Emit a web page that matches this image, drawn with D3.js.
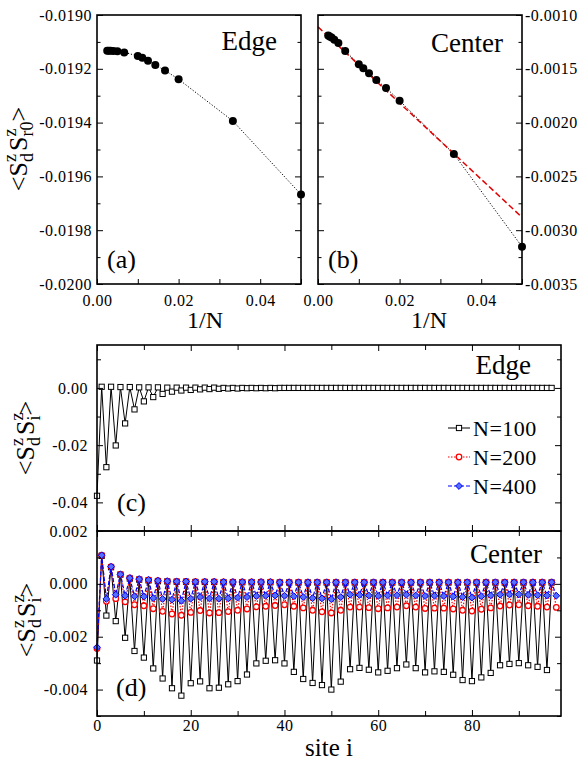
<!DOCTYPE html>
<html>
<head>
<meta charset="utf-8">
<script src="https://cdn.jsdelivr.net/npm/d3@7"></script>
<style>
  body { margin: 0; background: #fff; }
  text { font-family: "Liberation Serif", "Times New Roman", serif; }
</style>
</head>
<body>
<div id="chart"></div>
<script>
// finite-size data, panels (a) and (b)
const invN = [0.0025, 0.00286, 0.00333, 0.004, 0.005, 0.00667, 0.0100, 0.0111, 0.0125, 0.01429, 0.01667, 0.0200, 0.0333, 0.0500];
const edgeVals = [-0.019133, -0.019133, -0.019133, -0.019134, -0.019135, -0.019139, -0.019152, -0.019159, -0.019170, -0.019186, -0.019206, -0.019239, -0.019394, -0.019667];
const centerVals = [-0.00119, -0.00120, -0.00121, -0.00123, -0.00126, -0.001335, -0.001458, -0.001496, -0.001542, -0.001604, -0.001678, -0.001796, -0.002292, -0.003153];
const fitX = [0, 0.05];
const fitY = [-0.00111, -0.00288];

// site correlations, panel (c): edge, N=100
const edgeN100 = [
  -0.0377, 0.0004, -0.0277, 0.0004, -0.0201, 0.0003, -0.0124, 0.0003, -0.0075, 0.0002,
  -0.0047, 0.0002, -0.0032, 0.0002, -0.0021, 0.0001, -0.0013, 0.0001, -0.0009, 0.0001,
  -0.0007, 0.0001, -0.0005, 0.0001, -0.0004, 0.0001, -0.0003, 0.0000, -0.0002, 0.0000,
  -0.0002, 0.0000, -0.0001, 0.0000, -0.0001, 0.0000, -0.0001, 0.0000, -0.0001, 0.0000,
  0, 0, 0, 0, 0, 0, 0, 0, 0, 0,
  0, 0, 0, 0, 0, 0, 0, 0, 0, 0,
  0, 0, 0, 0, 0, 0, 0, 0, 0, 0,
  0, 0, 0, 0, 0, 0, 0, 0, 0, 0,
  0, 0, 0, 0, 0, 0, 0, 0, 0, 0,
  0, 0, 0, 0, 0, 0, 0, 0
];

// panel (d): center
const centerN100 = [
  -0.00290, 0.00106, -0.00120, 0.00063, -0.00141, 0.00035, -0.00204, 0.00020, -0.00254, 0.00016,
  -0.00279, 0.00013, -0.00320, 0.00010, -0.00358, 0.00009, -0.00395, 0.00008, -0.00423, 0.00008,
  -0.00376, 0.00007, -0.00369, 0.00007, -0.00395, 0.00007, -0.00393, 0.00006, -0.00380, 0.00006,
  -0.00368, 0.00006, -0.00343, 0.00006, -0.00301, 0.00006, -0.00291, 0.00006, -0.00289, 0.00005,
  -0.00301, 0.00005, -0.00333, 0.00005, -0.00360, 0.00005, -0.00375, 0.00005, -0.00383, 0.00005,
  -0.00400, 0.00005, -0.00370, 0.00005, -0.00323, 0.00005, -0.00318, 0.00005, -0.00325, 0.00005,
  -0.00335, 0.00005, -0.00329, 0.00005, -0.00319, 0.00005, -0.00305, 0.00005, -0.00319, 0.00005,
  -0.00335, 0.00005, -0.00331, 0.00005, -0.00333, 0.00005, -0.00344, 0.00005, -0.00364, 0.00005,
  -0.00368, 0.00005, -0.00354, 0.00005, -0.00337, 0.00005, -0.00308, 0.00005, -0.00303, 0.00005,
  -0.00300, 0.00005, -0.00308, 0.00005, -0.00314, 0.00005, -0.00326, 0.00005
];
const centerN200 = [
  -0.00245, 0.00108, -0.00066, 0.00065, -0.00056, 0.00036, -0.00068, 0.00022, -0.00079, 0.00018,
  -0.00083, 0.00015, -0.00094, 0.00012, -0.00104, 0.00010, -0.00114, 0.00009, -0.00119, 0.00009,
  -0.00108, 0.00008, -0.00101, 0.00008, -0.00110, 0.00008, -0.00109, 0.00007, -0.00105, 0.00007,
  -0.00100, 0.00007, -0.00095, 0.00007, -0.00087, 0.00007, -0.00085, 0.00007, -0.00082, 0.00006,
  -0.00079, 0.00006, -0.00085, 0.00006, -0.00091, 0.00006, -0.00100, 0.00006, -0.00106, 0.00006,
  -0.00110, 0.00006, -0.00100, 0.00006, -0.00088, 0.00006, -0.00088, 0.00006, -0.00090, 0.00006,
  -0.00094, 0.00006, -0.00091, 0.00006, -0.00088, 0.00006, -0.00083, 0.00006, -0.00088, 0.00006,
  -0.00093, 0.00006, -0.00092, 0.00006, -0.00092, 0.00006, -0.00095, 0.00006, -0.00100, 0.00006,
  -0.00103, 0.00006, -0.00096, 0.00006, -0.00091, 0.00006, -0.00084, 0.00006, -0.00080, 0.00006,
  -0.00079, 0.00006, -0.00083, 0.00006, -0.00085, 0.00006, -0.00088, 0.00006, -0.00089
];
const centerN400 = [
  -0.00240, 0.00108, -0.00057, 0.00065, -0.00041, 0.00036, -0.00045, 0.00022, -0.00047, 0.00018,
  -0.00048, 0.00015, -0.00054, 0.00012, -0.00057, 0.00010, -0.00060, 0.00009, -0.00064, 0.00009,
  -0.00056, 0.00008, -0.00050, 0.00008, -0.00055, 0.00008, -0.00056, 0.00007, -0.00055, 0.00007,
  -0.00052, 0.00007, -0.00050, 0.00007, -0.00046, 0.00007, -0.00045, 0.00007, -0.00044, 0.00006,
  -0.00045, 0.00006, -0.00047, 0.00006, -0.00050, 0.00006, -0.00054, 0.00006, -0.00055, 0.00006,
  -0.00058, 0.00006, -0.00050, 0.00006, -0.00041, 0.00006, -0.00042, 0.00006, -0.00044, 0.00006,
  -0.00046, 0.00006, -0.00044, 0.00006, -0.00043, 0.00006, -0.00041, 0.00006, -0.00044, 0.00006,
  -0.00046, 0.00006, -0.00045, 0.00006, -0.00046, 0.00006, -0.00048, 0.00006, -0.00050, 0.00006,
  -0.00052, 0.00006, -0.00047, 0.00006, -0.00044, 0.00006, -0.00041, 0.00006, -0.00040, 0.00006,
  -0.00040, 0.00006, -0.00042, 0.00006, -0.00043, 0.00006, -0.00044, 0.00006, -0.00045
];

const legendNames = ["N=100", "N=200", "N=400"];

// tick values
const invNTicks = [0.00, 0.02, 0.04];
const invNMinor = [0.01, 0.03, 0.05];
const aTicks = [-0.0200, -0.0198, -0.0196, -0.0194, -0.0192, -0.0190];
const aMinor = [-0.0199, -0.0197, -0.0195, -0.0193, -0.0191];
const bTicks = [-0.0035, -0.0030, -0.0025, -0.0020, -0.0015, -0.0010];
const bMinor = [-0.00325, -0.00275, -0.00225, -0.00175, -0.00125];
const cTicks = [-0.04, -0.02, 0.00];
const cMinor = [-0.03, -0.01, 0.01];
const dTicks = [-0.004, -0.002, 0.000, 0.002];
const dMinor = [-0.005, -0.003, -0.001, 0.001];
const siteTicks = [0, 20, 40, 60, 80];
const siteMinor = [10, 30, 50, 70, 90];

const SERIF = '"Liberation Serif", "Times New Roman", serif';
const W = 579, H = 764;
const svg = d3.select("#chart").append("svg").attr("width", W).attr("height", H);

const fmt = n => v => v.toFixed(n);

// inward ticks on one side; labelled when f is given
function ticks(axisFn, scale, pos, vals, size, f, pad) {
    const ax = axisFn(scale).tickValues(vals).tickSizeInner(-size).tickSizeOuter(0)
        .tickPadding(pad || 4).tickFormat(f || "");
    const g = svg.append("g").attr("transform", pos).call(ax);
    g.select(".domain").remove();
    g.selectAll("line").attr("stroke", "#000").attr("stroke-width", 1);
    g.attr("font-family", null).attr("font-size", null);
    g.selectAll("text").attr("fill", "#000")
        .style("font-family", SERIF).style("font-size", "16px").style("letter-spacing", "0.5px");
    return g;
}

function frame(x, y) {
    svg.append("rect")
        .attr("x", x.range()[0]).attr("y", y.range()[1])
        .attr("width", x.range()[1] - x.range()[0])
        .attr("height", y.range()[0] - y.range()[1])
        .attr("fill", "none").attr("stroke", "#000").attr("stroke-width", 1.6);
}

function label(txt, x, y, size, anchor) {
    svg.append("text").attr("x", x).attr("y", y).style("font-size", size + "px")
        .style("font-family", SERIF).attr("text-anchor", anchor || "start").text(txt);
}

function yLabel(x0, yc, sub) {
    const t = svg.append("text").attr("transform", `translate(${x0},${yc}) rotate(-90)`)
        .attr("text-anchor", "middle").style("font-family", SERIF).style("font-size", "26px");
    t.append("tspan").text("<S");
    t.append("tspan").style("font-size", "18px").attr("dy", -11).text("z");
    t.append("tspan").style("font-size", "18px").attr("dx", -8).attr("dy", 17).text("d");
    t.append("tspan").attr("dx", 2).attr("dy", -6).text("S");
    t.append("tspan").style("font-size", "18px").attr("dy", -11).text("z");
    t.append("tspan").style("font-size", "18px").attr("dx", -8).attr("dy", 17).text(sub);
    t.append("tspan").attr("dy", -6).text(">");
}

// ---------- panel (a) ----------
const xa = d3.scaleLinear().domain([0, 0.05]).range([97, 301]);
const ya = d3.scaleLinear().domain([-0.0200, -0.0190]).range([284, 15]);
const xb = d3.scaleLinear().domain([0, 0.05]).range([318, 522]);
const yb = d3.scaleLinear().domain([-0.0035, -0.0010]).range([284, 15]);

function fitPanel(x, y, vals) {
    const pts = invN.map((v, i) => [v, vals[i]]);
    svg.append("path").datum(pts)
        .attr("d", d3.line().x(d => x(d[0])).y(d => y(d[1])))
        .attr("fill", "none").attr("stroke", "#000").attr("stroke-width", 1)
        .attr("stroke-dasharray", "1.2,1.8");
    return pts;
}
function dots(x, y, pts) {
    svg.append("g").selectAll("circle").data(pts).join("circle")
        .attr("cx", d => x(d[0])).attr("cy", d => y(d[1])).attr("r", 4).attr("fill", "#000");
}

const ptsA = fitPanel(xa, ya, edgeVals);
dots(xa, ya, ptsA);
frame(xa, ya);
ticks(d3.axisLeft, ya, "translate(97,0)", aTicks, 6, fmt(4), 5);
ticks(d3.axisLeft, ya, "translate(97,0)", aMinor, 3.5);
ticks(d3.axisRight, ya, "translate(301,0)", aTicks, 6);
ticks(d3.axisRight, ya, "translate(301,0)", aMinor, 3.5);
ticks(d3.axisBottom, xa, "translate(0,284)", invNTicks, 5, fmt(2), 11);
ticks(d3.axisBottom, xa, "translate(0,284)", invNMinor, 5);
label("Edge", 277, 50, 27, "end");
label("(a)", 107, 268, 26);
label("1/N", 205, 328, 24, "middle");
yLabel(27, 149, "r0");

// ---------- panel (b) ----------
const ptsB = fitPanel(xb, yb, centerVals);
svg.append("path").datum(fitX.map((v, i) => [v, fitY[i]]))
    .attr("d", d3.line().x(d => xb(d[0])).y(d => yb(d[1])))
    .attr("fill", "none").attr("stroke", "#e00000").attr("stroke-width", 1.5)
    .attr("stroke-dasharray", "6,3");
dots(xb, yb, ptsB);
frame(xb, yb);
ticks(d3.axisRight, yb, "translate(522,0)", bTicks, 6, fmt(4), 3);
ticks(d3.axisRight, yb, "translate(522,0)", bMinor, 3.5);
ticks(d3.axisLeft, yb, "translate(318,0)", bTicks, 6);
ticks(d3.axisLeft, yb, "translate(318,0)", bMinor, 3.5);
ticks(d3.axisBottom, xb, "translate(0,284)", invNTicks, 5, fmt(2), 11);
ticks(d3.axisBottom, xb, "translate(0,284)", invNMinor, 5);
label("Center", 503, 52, 27, "end");
label("(b)", 328, 268, 26);
label("1/N", 429, 328, 24, "middle");

// ---------- panels (c) and (d) ----------
const xs = d3.scaleLinear().domain([0, 99]).range([97, 561]);
const yc = d3.scaleLinear().domain([-0.05, 0.015]).range([531, 345]);
const yd = d3.scaleLinear().domain([-0.005, 0.002]).range([716, 531]);

const styles = [
    { color: "#000", dash: null, width: 1, marker: "square" },
    { color: "#ff0000", dash: "1.5,1.5", width: 1.2, marker: "circle" },
    { color: "#0000ff", dash: "4,2", width: 1.2, marker: "diamond" }
];

function marker(g, st, cx, cy) {
    if (st.marker === "square") {
        g.append("rect").attr("x", cx - 2.6).attr("y", cy - 2.6).attr("width", 5.2).attr("height", 5.2)
            .attr("fill", "#fff").attr("stroke", st.color).attr("stroke-width", 1);
    } else if (st.marker === "circle") {
        g.append("circle").attr("cx", cx).attr("cy", cy).attr("r", 2.8)
            .attr("fill", "#fff").attr("stroke", st.color).attr("stroke-width", 1.3);
    } else {
        g.append("path").attr("d", `M${cx},${cy - 3.4}L${cx + 3.4},${cy}L${cx},${cy + 3.4}L${cx - 3.4},${cy}Z`)
            .attr("fill", "#5570ff").attr("stroke", st.color).attr("stroke-width", 1);
    }
}

function series(y, vals, st) {
    svg.append("path").datum(vals)
        .attr("d", d3.line().x((d, i) => xs(i)).y(d => y(d)))
        .attr("fill", "none").attr("stroke", st.color).attr("stroke-width", st.width)
        .attr("stroke-dasharray", st.dash);
    const g = svg.append("g");
    vals.forEach((v, i) => marker(g, st, xs(i), y(v)));
}

series(yc, edgeN100, styles[0]);
series(yd, centerN100, styles[0]);
series(yd, centerN200, styles[1]);
series(yd, centerN400, styles[2]);

frame(xs, yc);
frame(xs, yd);
ticks(d3.axisLeft, yc, "translate(97,0)", cTicks, 6, fmt(2), 9);
ticks(d3.axisLeft, yc, "translate(97,0)", cMinor, 4);
ticks(d3.axisRight, yc, "translate(561,0)", cTicks, 6);
ticks(d3.axisRight, yc, "translate(561,0)", cMinor, 4);
ticks(d3.axisTop, xs, "translate(0,345)", siteTicks, 6);
ticks(d3.axisTop, xs, "translate(0,345)", siteMinor, 5);
ticks(d3.axisBottom, xs, "translate(0,531)", siteTicks, 6);
ticks(d3.axisBottom, xs, "translate(0,531)", siteMinor, 5);

ticks(d3.axisLeft, yd, "translate(97,0)", dTicks, 6, fmt(3), 9);
ticks(d3.axisLeft, yd, "translate(97,0)", dMinor, 4);
ticks(d3.axisRight, yd, "translate(561,0)", dTicks, 6);
ticks(d3.axisRight, yd, "translate(561,0)", dMinor, 4);
ticks(d3.axisTop, xs, "translate(0,531)", siteTicks, 6);
ticks(d3.axisTop, xs, "translate(0,531)", siteMinor, 5);
ticks(d3.axisBottom, xs, "translate(0,716)", siteTicks, 6, d => d, 4);
ticks(d3.axisBottom, xs, "translate(0,716)", siteMinor, 5);

label("Edge", 531, 374, 27, "end");
label("(c)", 117, 511, 26);
label("Center", 542, 563, 27, "end");
label("(d)", 116, 696, 26);
label("site i", 329, 756, 25, "middle");
yLabel(34, 438, "i");
yLabel(35, 620, "i");

// legend
const leg = svg.append("g");
legendNames.forEach((name, i) => {
    const st = styles[i], ly = 428 + i * 29;
    leg.append("line").attr("x1", 448).attr("x2", 470).attr("y1", ly).attr("y2", ly)
        .attr("stroke", st.color).attr("stroke-width", st.width).attr("stroke-dasharray", st.dash);
    marker(leg, st, 459, ly);
    leg.append("text").attr("x", 473).attr("y", ly + 7.5)
        .style("font-family", SERIF).style("font-size", "22px")
        .style("letter-spacing", "0.5px").text(name);
});
</script>
</body>
</html>
